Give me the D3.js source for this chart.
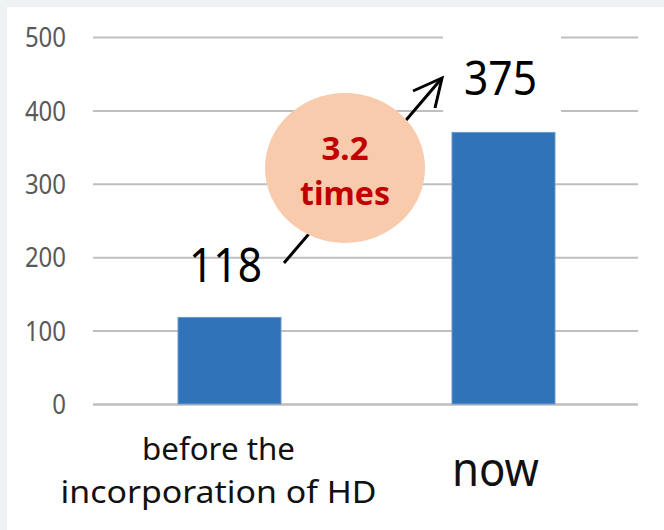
<!DOCTYPE html>
<html><head><meta charset="utf-8">
<script src="https://cdn.jsdelivr.net/npm/d3@7"></script>
<style>html,body{margin:0;padding:0;background:#eef2f3;}svg{display:block;}</style>
</head><body>
<script>
const categories = ["before the\nincorporation of HD", "now"];
const values = [118, 370];
const valueLabels = ["118", "375"];
const yTicks = [0, 100, 200, 300, 400, 500];
const ratioLabel = ["3.2", "times"];

const W = 664, H = 530;
const svg = d3.select("body").append("svg").attr("width", W).attr("height", H);
svg.append("rect").attr("width", W).attr("height", H).attr("fill", "#eef2f3");
svg.append("rect").attr("x", 7).attr("y", 7).attr("width", W - 7).attr("height", H - 7).attr("fill", "#ffffff");

const font = "'Noto Sans', 'Open Sans', sans-serif";
const y = d3.scaleLinear().domain([0, 500]).range([404, 37]);
const xc = d3.scalePoint().domain(categories).range([229.5, 503.5]);
const barW = 103;

// gridlines + tick labels
const gy = d3.axisLeft(y).tickValues(yTicks).tickSize(-(638 - 93)).tickFormat(d => d);
const g = svg.append("g").attr("transform", "translate(93,0)").call(gy);
g.select(".domain").remove();
g.selectAll(".tick line").attr("stroke", "#bfbfbf").attr("stroke-width", d => d === 0 ? 2.5 : 2);
g.selectAll(".tick text").attr("x", -27).attr("dy", "0.36em").attr("fill", "#595959")
  .style("font-family", font).style("font-size", "27px")
  .attr("textLength", d => String(d).length * 13.7).attr("lengthAdjust", "spacingAndGlyphs");

// white box behind the 375 label
svg.append("rect").attr("x", 443).attr("y", 33).attr("width", 118).attr("height", 84).attr("fill", "#fff");

// bars
svg.selectAll("rect.bar").data(values).enter().append("rect").attr("class", "bar")
  .attr("x", (d, i) => xc(categories[i]) - barW / 2)
  .attr("y", d => y(d))
  .attr("width", barW)
  .attr("height", d => y(0) - y(d))
  .attr("fill", "#3173b8").attr("stroke", "#6b9bcc").attr("stroke-width", 1);

// category labels
const lines0 = categories[0].split("\n");
const lineLens = [153, 316];
svg.append("text").attr("text-anchor", "middle")
  .style("font-family", font).style("font-size", "30px").attr("fill", "#111")
  .selectAll("tspan").data(lines0).enter().append("tspan")
  .attr("x", xc(categories[0]) - 11).attr("y", (d, i) => 460 + i * 43)
  .attr("textLength", (d, i) => lineLens[i]).attr("lengthAdjust", "spacingAndGlyphs").text(d => d);
svg.append("text").attr("x", xc(categories[1]) - 8).attr("y", 486).attr("text-anchor", "middle")
  .style("font-family", font).style("font-size", "47px").attr("fill", "#111")
  .attr("textLength", 87).attr("lengthAdjust", "spacingAndGlyphs").text(categories[1]);

// arrow
const arrowStart = [284, 263], arrowEnd = [442, 78];
svg.append("line").attr("x1", arrowStart[0]).attr("y1", arrowStart[1])
  .attr("x2", arrowEnd[0]).attr("y2", arrowEnd[1]).attr("stroke", "#000").attr("stroke-width", 3);
svg.append("path").attr("d", `M413,91 L${arrowEnd[0]},${arrowEnd[1]} L435,108`)
  .attr("fill", "none").attr("stroke", "#000").attr("stroke-width", 3).attr("stroke-linejoin", "miter");

// ellipse
svg.append("ellipse").attr("cx", 345).attr("cy", 168).attr("rx", 80).attr("ry", 75).attr("fill", "#f8cbad");
svg.append("text").attr("text-anchor", "middle").style("font-family", font).style("font-size", "32px")
  .style("font-weight", "bold").attr("fill", "#c00000")
  .selectAll("tspan").data(ratioLabel).enter().append("tspan")
  .attr("x", 345).attr("y", (d, i) => 160 + i * 45)
  .attr("textLength", (d, i) => [47, 90][i]).attr("lengthAdjust", "spacingAndGlyphs").text(d => d);

// value labels
svg.append("text").attr("x", 225.5).attr("y", 282).attr("text-anchor", "middle")
  .style("font-family", font).style("font-size", "48px").attr("fill", "#000")
  .attr("textLength", 73).attr("lengthAdjust", "spacingAndGlyphs").text(valueLabels[0]);
svg.append("text").attr("x", 500.5).attr("y", 95).attr("text-anchor", "middle")
  .style("font-family", font).style("font-size", "48px").attr("fill", "#000")
  .attr("textLength", 73).attr("lengthAdjust", "spacingAndGlyphs").text(valueLabels[1]);
</script>
</body></html>
